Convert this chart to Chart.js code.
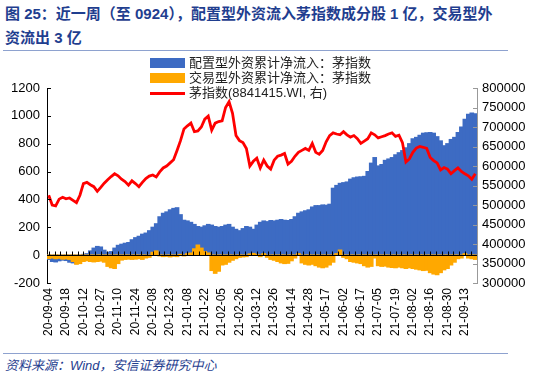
<!DOCTYPE html>
<html>
<head>
<meta charset="utf-8">
<script src="https://cdn.jsdelivr.net/npm/chart.js@4.4.0/dist/chart.umd.min.js"></script>
<style>
body{margin:0;width:550px;height:376px;background:#fff;position:relative;overflow:hidden;font-family:"Liberation Sans","Noto Sans CJK SC",sans-serif}
#title{position:absolute;left:5px;top:2px;font-size:15px;font-weight:bold;color:#1f3e8f;line-height:24px;white-space:nowrap}
.rule{position:absolute;left:3px;width:505px;height:0;border-top:1.5px solid #8ea2cf}
#wrap{position:absolute;left:0;top:50px;width:550px;height:300px}
.lg{position:absolute;left:150px;font-size:13px;color:#222;white-space:nowrap;height:16px;line-height:16px}
.lg span.box{position:absolute;left:0;top:3px;width:35px;height:10px}
.lg span.ln{position:absolute;left:0;top:7px;width:35px;height:3px;background:#ff0000}
.lg span.tx{position:absolute;left:39px;top:0}
#source{position:absolute;left:5px;top:355px;font-size:13px;font-style:italic;color:#1f3e8f;white-space:nowrap}
</style>
</head>
<body>
<div id="title">图 25：近一周（至 0924），配置型外资流入茅指数成分股 1 亿，交易型外<br>资流出 3 亿</div>
<div class="rule" style="top:50px"></div>
<div id="wrap"><canvas id="maoChart"></canvas></div>
<div class="lg" style="top:55px"><span class="box" style="background:#3d6bc3"></span><span class="tx">配置型外资累计净流入：茅指数</span></div>
<div class="lg" style="top:70px"><span class="box" style="background:#ffa800"></span><span class="tx">交易型外资累计净流入：茅指数</span></div>
<div class="lg" style="top:85px"><span class="ln"></span><span class="tx">茅指数(8841415.WI, 右)</span></div>
<div class="rule" style="top:353px"></div>
<div id="source">资料来源：Wind，安信证券研究中心</div>

<script>
// one value every 2 trading days, 2020-09-04 .. 2021-09-24
const tickLabels = ['20-09-04','20-09-18','20-10-12','20-10-27','20-11-10','20-11-24','20-12-08','20-12-23',
    '21-01-08','21-01-22','21-02-05','21-02-26','21-03-12','21-03-26','21-04-14','21-04-28','21-05-17',
    '21-06-02','21-06-17','21-07-05','21-07-19','21-08-02','21-08-16','21-08-30','21-09-13'];

// 配置型外资累计净流入 (亿元, left)
const allocFlow = [
    -30,-45,-48,-40,-35,-38,-50,-55,-60,-20,
    5,10,30,50,62,58,35,20,25,50,
    70,78,85,90,110,125,135,150,158,175,
    200,225,275,300,310,325,335,340,290,250,
    245,235,220,205,200,210,220,215,205,200,
    205,215,220,200,185,175,190,205,200,185,
    215,235,245,240,248,245,250,255,250,248,
    255,275,300,310,318,325,345,355,355,360,
    358,365,480,500,515,520,525,545,555,560,
    562,565,600,660,700,640,650,680,690,700,
    720,735,750,770,800,835,845,860,875,878,
    880,875,850,820,785,800,830,845,880,920,
    975,1010,1020,1015
];

// 交易型外资累计净流入 (亿元, left)
const tradeFlow = [
    -24,-20,-25,-22,-28,-26,-30,-45,-65,-60,
    -45,-40,-45,-48,-45,-42,-50,-80,-90,-95,
    -60,-35,-30,-28,-30,-28,-25,-30,-20,-15,
    20,30,-5,-10,-8,-12,-8,-10,5,-5,
    10,15,45,72,50,25,15,-110,-130,-115,
    -70,-65,-50,-36,-25,-15,-12,-10,8,12,
    5,-10,10,-15,-30,-36,-45,-55,-60,-58,
    -40,-20,10,-55,-65,-70,-65,-75,-85,-90,
    -85,-70,-50,10,36,-15,-25,-45,-50,-55,
    -60,-75,-85,-80,-20,-75,-80,-78,-85,-88,
    -90,-85,-90,-95,-90,-95,-100,-105,-110,-108,
    -125,-135,-140,-125,-105,-95,-70,-50,-25,-20,
    10,-20,-25,-30
];

// 茅指数 8841415.WI (right)
const maoIndex = [
    525000,500000,498000,515000,520000,516000,518000,512000,506000,525000,
    555000,558000,552000,547000,535000,545000,556000,565000,573000,580000,
    575000,566000,560000,551000,562000,555000,547000,558000,568000,574000,
    577000,572000,585000,595000,600000,608000,616000,640000,665000,695000,
    703000,710000,688000,690000,700000,720000,728000,692000,710000,714000,
    716000,750000,765000,735000,678000,665000,660000,645000,600000,612000,
    620000,595000,615000,600000,592000,615000,625000,628000,632000,605000,
    612000,625000,635000,640000,645000,640000,658000,635000,630000,640000,
    662000,678000,685000,682000,680000,688000,680000,674000,678000,670000,
    658000,664000,670000,685000,680000,672000,675000,678000,682000,685000,
    676000,679000,660000,610000,618000,635000,646000,650000,648000,645000,
    622000,614000,608000,590000,596000,592000,580000,588000,595000,586000,
    580000,575000,566000,580000
];

const categories = allocFlow.map((_, i) => i);

// zero line with small upward ticks, inward y-axis ticks
const axisMarks = {
    id: 'axisMarks',
    afterDatasetsDraw(chart) {
        const {ctx, chartArea, scales} = chart;
        const x = scales.x, y = scales.y, y1 = scales.y1;
        const y0 = Math.round(y.getPixelForValue(0)) + 0.5;
        ctx.save();
        ctx.strokeStyle = '#000';
        ctx.lineWidth = 1;
        ctx.beginPath();
        ctx.moveTo(chartArea.left, y0);
        ctx.lineTo(chartArea.right, y0);
        for (let t = 0; t <= categories.length - 1; t += 5 / 3) {
            const px = Math.round(x.getPixelForValue(t)) + 0.5;
            ctx.moveTo(px, y0);
            ctx.lineTo(px, y0 - 4);
        }
        y.ticks.forEach(tk => {
            const py = Math.round(y.getPixelForValue(tk.value)) + 0.5;
            ctx.moveTo(chartArea.left, py);
            ctx.lineTo(chartArea.left + 4, py);
        });
        ctx.stroke();
        ctx.strokeStyle = '#999';
        ctx.beginPath();
        y1.ticks.forEach(tk => {
            const py = Math.round(y1.getPixelForValue(tk.value)) + 0.5;
            ctx.moveTo(chartArea.right, py);
            ctx.lineTo(chartArea.right - 4, py);
        });
        ctx.stroke();
        ctx.restore();
    }
};

const ctx = document.getElementById('maoChart');
new Chart(ctx, {
    type: 'bar',
    data: {
        labels: categories,
        datasets: [
            {
                label: '配置型外资累计净流入：茅指数',
                data: allocFlow,
                backgroundColor: '#3d6bc3',
                yAxisID: 'y',
                grouped: false,
                barPercentage: 1,
                categoryPercentage: 1,
                inflateAmount: 0.6,
                order: 3
            },
            {
                label: '交易型外资累计净流入：茅指数',
                data: tradeFlow,
                backgroundColor: '#ffa800',
                yAxisID: 'y',
                grouped: false,
                barPercentage: 1,
                categoryPercentage: 1,
                inflateAmount: 0.6,
                order: 2
            },
            {
                type: 'line',
                label: '茅指数(8841415.WI, 右)',
                data: maoIndex,
                borderColor: '#ff0000',
                borderWidth: 2.8,
                pointRadius: 0,
                tension: 0,
                yAxisID: 'y1',
                order: 1
            }
        ]
    },
    options: {
        responsive: true,
        maintainAspectRatio: false,
        animation: false,
        layout: { padding: { top: 38, left: 0, right: 0, bottom: 0 } },
        plugins: { legend: { display: false }, tooltip: { enabled: false } },
        scales: {
            x: {
                offset: true,
                grid: { display: false, drawTicks: false },
                border: { display: false },
                ticks: {
                    autoSkip: false,
                    maxRotation: 90,
                    minRotation: 90,
                    padding: 5,
                    color: '#000',
                    font: { size: 12, family: 'Liberation Sans' },
                    callback: (v, i) => i % 5 === 0 ? tickLabels[i / 5] : ''
                },
                afterFit: s => { s.height = 67; }
            },
            y: {
                position: 'left',
                min: -200,
                max: 1200,
                grid: { display: false, drawTicks: false },
                border: { display: true, color: '#000', width: 1 },
                ticks: { stepSize: 200, padding: 7, color: '#000', font: { size: 13, family: 'Liberation Sans' },
                    callback: v => String(v) },
                afterFit: s => { s.width = 47; }
            },
            y1: {
                position: 'right',
                min: 300000,
                max: 800000,
                grid: { display: false, drawTicks: false },
                border: { display: true, color: '#999', width: 1 },
                ticks: { stepSize: 50000, padding: 5, color: '#000', font: { size: 13, family: 'Liberation Sans' },
                    callback: v => String(v) },
                afterFit: s => { s.width = 73; }
            }
        }
    },
    plugins: [axisMarks]
});
</script>
</body>
</html>
